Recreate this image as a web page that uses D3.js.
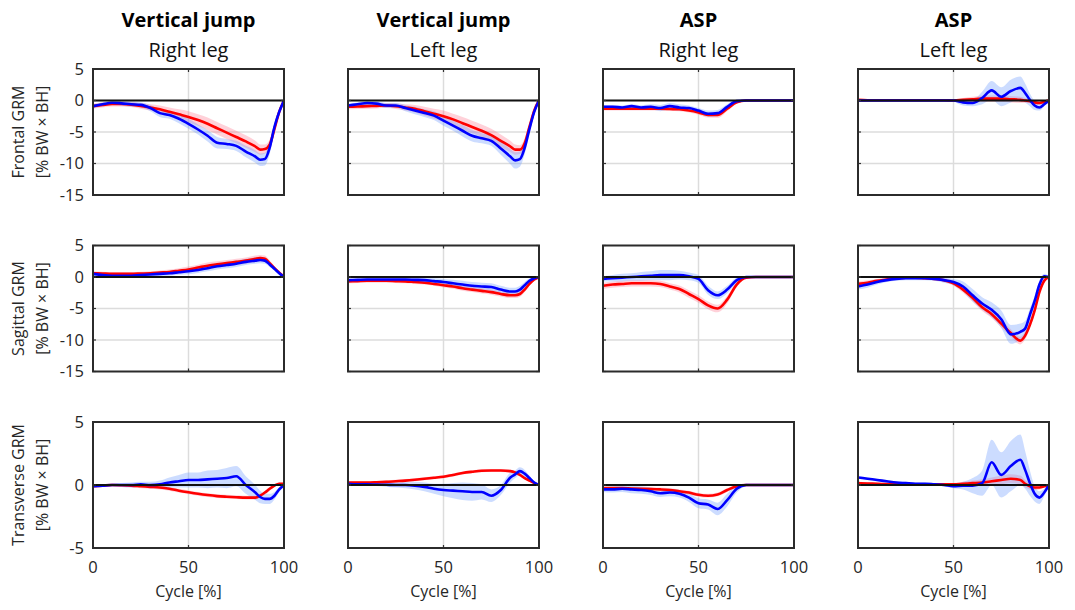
<!DOCTYPE html>
<html>
<head>
<meta charset="UTF-8">
<style>
  body { margin: 0; background: #fff; }
  svg { font-family: "Open Sans", sans-serif; }
</style>
</head>
<body>
<svg></svg>
<script src="https://d3js.org/d3.v7.min.js"></script>
<script>
const width = 1075, height = 610;

// gait cycle sample points [%]
const cycle = [0,5,10,15,20,25,30,35,40,45,50,55,60,65,70,75,80,85,87.5,90,92.5,95,97.5,100];

const colTitles = ["Vertical jump", "Vertical jump", "ASP", "ASP"];
const colSubtitles = ["Right leg", "Left leg", "Right leg", "Left leg"];
const rowNames = ["Frontal GRM", "Sagittal GRM", "Transverse GRM"];
const rowUnit = "[% BW \u00d7 BH]";
const yDomains = [[-15, 5], [-15, 5], [-5, 5]];
const yTicks = [[-15, -10, -5, 0, 5], [-15, -10, -5, 0, 5], [-5, 0, 5]];
const xTicks = [0, 50, 100];

// ---- frontal (columns: VJ right, VJ left, ASP right, ASP left)
const frontalRed = [
  [-0.9,-0.7,-0.55,-0.55,-0.65,-0.85,-1.1,-1.4,-1.8,-2.2,-2.6,-3.1,-3.7,-4.4,-5.1,-5.8,-6.5,-7.3,-7.8,-7.7,-7.0,-4.5,-1.8,0],
  [-1.0,-0.95,-0.9,-0.85,-0.8,-0.9,-1.1,-1.3,-1.7,-2.1,-2.5,-3.0,-3.6,-4.2,-4.8,-5.5,-6.4,-7.3,-7.8,-7.8,-6.8,-4.2,-1.6,0],
  [-1.3,-1.3,-1.3,-1.3,-1.3,-1.3,-1.3,-1.35,-1.4,-1.6,-1.9,-2.3,-2.3,-1.3,-0.3,0,0,0,0,0,0,0,0,0],
  [0.1,0.05,0.05,0.05,0.05,0.05,0.05,0.05,0.05,0.05,0,0.1,0.2,0.3,0.3,0.3,0.2,0.1,0,-0.1,-0.3,-0.4,-0.2,0]
];
const frontalRedSd = [
  [0.4,0.4,0.4,0.4,0.4,0.45,0.5,0.6,0.7,0.8,0.9,0.9,1.0,1.0,1.0,1.0,1.0,0.9,0.8,0.7,0.8,0.8,0.5,0.1],
  [0.4,0.4,0.4,0.4,0.4,0.45,0.5,0.6,0.7,0.8,0.9,0.9,1.0,1.0,1.0,1.0,1.0,0.9,0.8,0.7,0.8,0.8,0.5,0.1],
  [0.3,0.3,0.3,0.3,0.3,0.3,0.3,0.3,0.3,0.3,0.35,0.4,0.45,0.4,0.2,0.1,0.05,0.05,0.05,0.05,0.05,0.05,0.05,0.05],
  [0.1,0.1,0.1,0.1,0.1,0.1,0.1,0.1,0.1,0.1,0.15,0.3,0.4,0.5,0.5,0.5,0.5,0.5,0.4,0.3,0.3,0.3,0.2,0.1]
];
const frontalBlue = [
  [-0.9,-0.6,-0.35,-0.45,-0.6,-0.7,-1.2,-2.0,-2.3,-2.9,-3.7,-4.6,-5.6,-6.7,-6.9,-7.2,-8.1,-8.9,-9.4,-9.3,-7.5,-4.2,-1.8,0],
  [-0.8,-0.6,-0.4,-0.5,-0.8,-0.8,-1.2,-1.6,-2.0,-2.4,-3.2,-4.0,-4.8,-5.6,-6.0,-6.4,-7.6,-8.9,-9.5,-9.3,-7.5,-4.5,-1.8,0],
  [-1.0,-1.0,-1.1,-0.9,-1.1,-1.0,-1.2,-0.9,-1.1,-1.2,-1.6,-2.1,-2.0,-1.0,-0.1,0,0,0,0,0,0,0,0,0],
  [0,0,0,0,0,0,0,0,0,0,0,-0.3,-0.4,0.4,1.6,0.6,1.5,2.0,1.2,0.1,-0.8,-1.1,-0.6,0]
];
const frontalBlueSd = [
  [0.3,0.3,0.3,0.35,0.4,0.4,0.5,0.6,0.6,0.7,0.8,0.8,0.9,0.9,0.8,0.8,0.9,1.0,1.0,1.0,1.0,0.8,0.5,0.1],
  [0.3,0.3,0.3,0.35,0.4,0.4,0.5,0.6,0.6,0.7,0.8,0.8,0.9,0.9,0.8,0.8,1.0,1.2,1.3,1.2,1.0,0.8,0.5,0.1],
  [0.3,0.3,0.3,0.3,0.35,0.4,0.5,0.5,0.5,0.4,0.4,0.5,0.5,0.4,0.2,0.1,0.05,0.05,0.05,0.05,0.05,0.05,0.05,0.05],
  [0.1,0.1,0.1,0.1,0.1,0.1,0.1,0.1,0.1,0.1,0.2,0.5,0.5,1.0,1.5,1.5,1.8,1.8,1.5,1.0,0.7,0.5,0.3,0.1]
];

// ---- sagittal
const sagittalRed = [
  [0.6,0.55,0.5,0.5,0.5,0.55,0.6,0.7,0.8,1.0,1.2,1.5,1.8,2.0,2.2,2.4,2.6,2.9,3.0,2.9,2.2,1.4,0.7,0],
  [-0.7,-0.65,-0.6,-0.6,-0.6,-0.65,-0.7,-0.8,-0.9,-1.1,-1.3,-1.5,-1.8,-2.0,-2.2,-2.4,-2.7,-2.9,-2.9,-2.7,-2.0,-1.1,-0.4,0],
  [-1.4,-1.2,-1.1,-1.0,-1.0,-1.0,-1.1,-1.5,-1.9,-2.7,-3.5,-4.5,-5.0,-3.6,-1.2,-0.1,0,0,0,0,0,0,0,0],
  [-1.1,-0.9,-0.6,-0.4,-0.2,-0.1,-0.1,-0.2,-0.3,-0.5,-1.0,-2.0,-3.3,-4.8,-5.9,-7.4,-8.9,-10.1,-9.3,-7.6,-5.3,-2.4,-0.6,0]
];
const sagittalRedSd = [
  [0.3,0.3,0.3,0.3,0.3,0.3,0.3,0.35,0.4,0.4,0.45,0.45,0.5,0.5,0.5,0.5,0.5,0.5,0.5,0.5,0.4,0.3,0.2,0.1],
  [0.3,0.3,0.3,0.3,0.3,0.3,0.3,0.3,0.3,0.3,0.35,0.35,0.4,0.4,0.4,0.4,0.4,0.45,0.45,0.45,0.4,0.3,0.2,0.1],
  [0.5,0.5,0.5,0.5,0.5,0.5,0.5,0.5,0.55,0.6,0.6,0.6,0.6,0.6,0.4,0.1,0.05,0.05,0.05,0.05,0.05,0.05,0.05,0.05],
  [0.4,0.4,0.3,0.3,0.2,0.2,0.2,0.2,0.2,0.3,0.4,0.5,0.6,0.6,0.6,0.6,0.6,0.6,0.6,0.6,0.5,0.4,0.3,0.1]
];
const sagittalBlue = [
  [0.5,0.3,0.2,0.2,0.2,0.3,0.4,0.5,0.6,0.75,0.9,1.1,1.4,1.7,1.9,2.1,2.4,2.6,2.7,2.6,2.0,1.3,0.6,0],
  [-0.5,-0.45,-0.4,-0.4,-0.4,-0.4,-0.4,-0.45,-0.5,-0.65,-0.8,-1.0,-1.2,-1.4,-1.5,-1.6,-2.0,-2.3,-2.3,-2.0,-1.3,-0.6,-0.2,0],
  [-0.3,-0.2,-0.1,0,0.1,0.2,0.3,0.3,0.3,0.1,-0.3,-2.1,-2.9,-2.0,-0.5,0,0,0,0,0,0,0,0,0],
  [-1.5,-1.2,-0.8,-0.5,-0.3,-0.2,-0.2,-0.2,-0.3,-0.5,-0.8,-1.5,-2.9,-4.2,-5.2,-6.7,-9.1,-8.7,-8.2,-6.0,-3.8,-1.2,0.1,0]
];
const sagittalBlueSd = [
  [0.3,0.3,0.3,0.3,0.3,0.3,0.3,0.35,0.4,0.4,0.45,0.45,0.5,0.5,0.5,0.5,0.5,0.5,0.5,0.5,0.4,0.3,0.2,0.1],
  [0.2,0.2,0.2,0.2,0.2,0.25,0.3,0.35,0.4,0.45,0.5,0.55,0.6,0.6,0.6,0.6,0.6,0.6,0.6,0.6,0.5,0.4,0.2,0.1],
  [0.4,0.5,0.6,0.6,0.7,0.7,0.8,0.8,0.7,0.6,0.6,0.7,0.6,0.6,0.4,0.1,0.05,0.05,0.05,0.05,0.05,0.05,0.05,0.05],
  [0.5,0.5,0.4,0.3,0.3,0.3,0.3,0.3,0.3,0.4,0.5,0.8,1.0,1.0,1.2,1.4,1.5,1.3,1.2,1.0,0.8,0.6,0.4,0.1]
];

// ---- transverse
const transverseRed = [
  [-0.1,-0.05,0,-0.02,-0.05,-0.1,-0.15,-0.2,-0.3,-0.45,-0.58,-0.7,-0.8,-0.88,-0.93,-0.97,-1.0,-1.0,-0.85,-0.6,-0.3,-0.05,0.1,0.1],
  [0.2,0.2,0.2,0.22,0.25,0.3,0.35,0.42,0.5,0.57,0.65,0.8,0.95,1.05,1.13,1.15,1.15,1.1,1.0,0.8,0.55,0.35,0.15,0],
  [-0.25,-0.25,-0.25,-0.28,-0.3,-0.32,-0.35,-0.4,-0.5,-0.6,-0.78,-0.85,-0.75,-0.4,-0.1,0,0,0,0,0,0,0,0,0],
  [0.15,0.12,0.1,0.07,0.05,0.05,0.05,0.05,0.05,0.05,0.05,0.1,0.15,0.2,0.3,0.4,0.5,0.4,0.1,-0.1,-0.2,-0.2,-0.1,0]
];
const transverseRedSd = [
  [0.1,0.1,0.1,0.1,0.12,0.15,0.15,0.15,0.15,0.15,0.15,0.15,0.15,0.15,0.15,0.15,0.15,0.15,0.15,0.15,0.15,0.1,0.1,0.1],
  [0.1,0.1,0.1,0.1,0.12,0.12,0.12,0.12,0.12,0.12,0.12,0.12,0.12,0.12,0.12,0.12,0.12,0.12,0.12,0.12,0.12,0.1,0.1,0.1],
  [0.1,0.1,0.1,0.1,0.12,0.15,0.15,0.15,0.15,0.15,0.15,0.15,0.15,0.15,0.1,0.05,0.05,0.05,0.05,0.05,0.05,0.05,0.05,0.05],
  [0.1,0.1,0.1,0.1,0.1,0.1,0.1,0.1,0.1,0.1,0.1,0.15,0.2,0.25,0.3,0.35,0.35,0.35,0.3,0.25,0.2,0.15,0.1,0.05]
];
const transverseBlue = [
  [-0.1,-0.05,0,0,0,0.05,0,0.05,0.2,0.3,0.4,0.4,0.45,0.5,0.55,0.7,0.0,-0.6,-0.95,-1.1,-1.1,-0.85,-0.35,0],
  [0.1,0.05,0.05,0.03,0.02,0,0,-0.05,-0.15,-0.3,-0.4,-0.45,-0.5,-0.55,-0.55,-0.85,-0.4,0.6,0.85,1.1,0.9,0.55,0.2,0],
  [-0.35,-0.35,-0.3,-0.35,-0.4,-0.5,-0.65,-0.6,-0.7,-1.0,-1.45,-1.55,-1.9,-1.2,-0.3,0,0,0,0,0,0,0,0,0],
  [0.6,0.5,0.4,0.3,0.2,0.15,0.1,0.1,0.05,0,-0.1,-0.05,-0.05,0.15,1.8,0.8,1.5,2.0,1.2,0.15,-0.7,-1.0,-0.6,0]
];
const transverseBlueSd = [
  [0.1,0.1,0.1,0.15,0.2,0.2,0.25,0.3,0.4,0.5,0.6,0.6,0.7,0.7,0.8,0.8,0.7,0.6,0.5,0.4,0.4,0.3,0.2,0.1],
  [0.1,0.1,0.1,0.1,0.15,0.2,0.25,0.3,0.35,0.4,0.5,0.6,0.7,0.7,0.6,0.5,0.4,0.4,0.3,0.3,0.3,0.2,0.1,0.05],
  [0.2,0.25,0.25,0.3,0.3,0.3,0.3,0.3,0.3,0.35,0.4,0.4,0.5,0.5,0.3,0.1,0.05,0.05,0.05,0.05,0.05,0.05,0.05,0.05],
  [0.1,0.1,0.1,0.1,0.1,0.1,0.1,0.1,0.1,0.1,0.15,0.3,0.6,1.0,1.8,1.8,2.0,2.0,1.5,1.0,0.6,0.5,0.3,0.1]
];

const rows = [
  { red: frontalRed, redSd: frontalRedSd, blue: frontalBlue, blueSd: frontalBlueSd },
  { red: sagittalRed, redSd: sagittalRedSd, blue: sagittalBlue, blueSd: sagittalBlueSd },
  { red: transverseRed, redSd: transverseRedSd, blue: transverseBlue, blueSd: transverseBlueSd }
];

// layout
const panelW = 191, panelH = 126;
const colLeft = [93, 348, 603, 858];
const rowTop = [69, 245.5, 422];

const svg = d3.select("svg")
  .attr("width", width)
  .attr("height", height);

const defs = svg.append("defs");
defs.append("clipPath").attr("id", "plotClip")
  .append("rect").attr("width", panelW).attr("height", panelH);

const x = d3.scaleLinear().domain([0, 100]).range([0, panelW]);

rows.forEach((row, r) => {
  const y = d3.scaleLinear().domain(yDomains[r]).range([panelH, 0]);

  colLeft.forEach((left, c) => {
    const g = svg.append("g").attr("transform", `translate(${left},${rowTop[r]})`);

    // grid
    g.selectAll(".ygrid").data(yTicks[r].slice(1, -1)).join("line")
      .attr("x1", 0).attr("x2", panelW)
      .attr("y1", d => y(d)).attr("y2", d => y(d))
      .attr("stroke", "#dcdcdc").attr("stroke-width", 1.5);
    g.selectAll(".xgrid").data(xTicks.slice(1, -1)).join("line")
      .attr("x1", d => x(d)).attr("x2", d => x(d))
      .attr("y1", 0).attr("y2", panelH)
      .attr("stroke", "#dcdcdc").attr("stroke-width", 1.5);

    const plot = g.append("g").attr("clip-path", "url(#plotClip)");

    const pts = (mean, sd) => cycle.map((p, i) => ({ p, m: mean[i], s: sd[i] }));
    const band = d3.area().curve(d3.curveMonotoneX)
      .x(d => x(d.p)).y0(d => y(d.m - d.s)).y1(d => y(d.m + d.s));
    const line = d3.line().curve(d3.curveMonotoneX)
      .x(d => x(d.p)).y(d => y(d.m));

    const redPts = pts(row.red[c], row.redSd[c]);
    const bluePts = pts(row.blue[c], row.blueSd[c]);

    plot.append("path").attr("d", band(redPts))
      .attr("fill", "#ff6680").attr("fill-opacity", 0.3);
    plot.append("path").attr("d", band(bluePts))
      .attr("fill", "#6e9bff").attr("fill-opacity", 0.35);

    // zero line
    g.append("line")
      .attr("x1", 0).attr("x2", panelW)
      .attr("y1", y(0)).attr("y2", y(0))
      .attr("stroke", "#111").attr("stroke-width", 2);

    plot.append("path").attr("d", line(redPts))
      .attr("fill", "none").attr("stroke", "#ff0000").attr("stroke-width", 2.6);
    plot.append("path").attr("d", line(bluePts))
      .attr("fill", "none").attr("stroke", "#0000ff").attr("stroke-width", 2.6);

    // small inner ticks
    const tk = 3;
    yTicks[r].forEach(t => {
      g.append("line").attr("x1", 0).attr("x2", tk).attr("y1", y(t)).attr("y2", y(t)).attr("stroke", "#333").attr("stroke-width", 1.2);
      g.append("line").attr("x1", panelW - tk).attr("x2", panelW).attr("y1", y(t)).attr("y2", y(t)).attr("stroke", "#333").attr("stroke-width", 1.2);
    });
    xTicks.forEach(t => {
      g.append("line").attr("x1", x(t)).attr("x2", x(t)).attr("y1", 0).attr("y2", tk).attr("stroke", "#333").attr("stroke-width", 1.2);
      g.append("line").attr("x1", x(t)).attr("x2", x(t)).attr("y1", panelH - tk).attr("y2", panelH).attr("stroke", "#333").attr("stroke-width", 1.2);
    });

    // box
    g.append("rect")
      .attr("width", panelW).attr("height", panelH)
      .attr("fill", "none").attr("stroke", "#2b2b2b").attr("stroke-width", 2);

    // y tick labels on first column
    if (c === 0) {
      g.selectAll(".ylab").data(yTicks[r]).join("text")
        .attr("x", -9).attr("y", d => y(d)).attr("dy", "0.36em")
        .attr("text-anchor", "end").attr("font-size", 16.5).attr("fill", "#262626")
        .text(d => d);
      g.append("text")
        .attr("transform", `translate(-69,${panelH / 2}) rotate(-90)`)
        .attr("text-anchor", "middle").attr("font-size", 16).attr("fill", "#262626")
        .text(rowNames[r]);
      g.append("text")
        .attr("transform", `translate(-45,${panelH / 2}) rotate(-90)`)
        .attr("text-anchor", "middle").attr("font-size", 16).attr("fill", "#262626")
        .text(rowUnit);
    }

    // x tick labels on last row
    if (r === rows.length - 1) {
      g.selectAll(".xlab").data(xTicks).join("text")
        .attr("x", d => x(d)).attr("y", panelH + 25)
        .attr("text-anchor", "middle").attr("font-size", 16.5).attr("fill", "#262626")
        .text(d => d);
      g.append("text")
        .attr("x", panelW / 2).attr("y", panelH + 49)
        .attr("text-anchor", "middle").attr("font-size", 16).attr("fill", "#262626")
        .text("Cycle [%]");
    }

    // titles on first row
    if (r === 0) {
      g.append("text")
        .attr("x", panelW / 2).attr("y", -42)
        .attr("text-anchor", "middle").attr("font-size", 20).attr("font-weight", "bold").attr("fill", "#000")
        .text(colTitles[c]);
      g.append("text")
        .attr("x", panelW / 2).attr("y", -12)
        .attr("text-anchor", "middle").attr("font-size", 20).attr("fill", "#111")
        .text(colSubtitles[c]);
    }
  });
});
</script>
</body>
</html>
